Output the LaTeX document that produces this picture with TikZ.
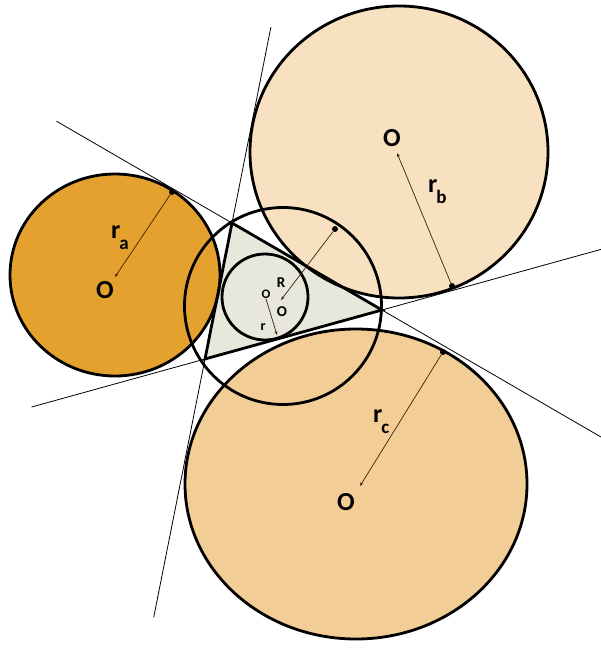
\documentclass[tikz,border=0pt]{standalone}
\usepackage{fontspec}
\setmainfont{Carlito}
\usetikzlibrary{calc,arrows.meta}
\definecolor{exa}{RGB}{229,161,46}
\definecolor{exb}{RGB}{248,225,192}
\definecolor{exc}{RGB}{242,206,150}
\definecolor{tri}{RGB}{231,232,219}
\definecolor{rad}{RGB}{60,30,10}

\begin{document}
\begin{tikzpicture}[x=1pt,y=-1pt,every node/.style={font=\bfseries,inner sep=0pt},
  rim/.style={line width=2.8pt},
  tline/.style={line width=0.8pt},
  radline/.style={draw=rad,line width=0.7pt,-{Stealth[length=4pt,width=3pt]}},
  blob/.style={fill=black,circle,minimum size=6pt},
  big/.style={font=\fontsize{26}{28}\selectfont\bfseries},
  small/.style={font=\fontsize{15}{17}\selectfont\bfseries}]
\useasboundingbox (0,0) rectangle (601,650);
\coordinate (A) at (232,223);
\coordinate (B) at (382,310);
\coordinate (C) at (205,359);
\coordinate (Oa) at (115,277);
\coordinate (Ob) at (397,153);
\coordinate (Oc) at (360,486);
\coordinate (Oi) at (266,299);
\coordinate (Ok) at (281,300);

\fill[exa] (115,275) ellipse [x radius=105,y radius=101];
\fill[exb] (399,152) ellipse [x radius=149,y radius=146];
\fill[exc] (356,484) ellipse [x radius=171,y radius=155];
\fill[tri] (A) -- (B) -- (C) -- cycle;

\draw[tline] ($(A)!-1.44!(C)$) -- ($(A)!2.9!(C)$);
\draw[tline] ($(A)!-1.17!(B)$) -- ($(A)!2.46!(B)$);
\draw[tline] ($(C)!-0.98!(B)$) -- ($(C)!2.24!(B)$);

\draw[rim] (115,275) ellipse [x radius=105,y radius=101];
\draw[rim] (399,152) ellipse [x radius=149,y radius=146];
\draw[rim] (356,484) ellipse [x radius=171,y radius=155];
\draw[rim,line join=miter] (A) -- (B) -- (C) -- cycle;
\draw[rim] (265,297) circle [radius=43];
\draw[rim] (283,306) circle [radius=98.5];

\node[blob] (ta) at (172,192) {};
\node[blob] (tb) at (452,286) {};
\node[blob] (tc) at (443,352) {};
\node[blob] (tk) at (335,229) {};
\coordinate (ti) at (277,335);
\draw[radline] (ta) -- (Oa);
\draw[radline] (tb) -- (Ob);
\draw[radline] (tc) -- (Oc);
\draw[radline] (tk) -- (Ok);
\draw[radline] (Oi) -- (ti);

\node[big] (la) at (105,290) {O};
\node[big] (lb) at (392,138) {O};
\node[big] (lc) at (346,502) {O};
\node[big,anchor=base west] (ra) at (111,238) {r\kern-1pt\raisebox{-11pt}{\fontsize{19}{20}\selectfont a}};
\node[big,anchor=base west] (rb) at (428,192) {r\kern-1pt\raisebox{-11pt}{\fontsize{19}{20}\selectfont b}};
\node[big,anchor=base west] (rc) at (373,422) {r\kern-1pt\raisebox{-11pt}{\fontsize{19}{20}\selectfont c}};
\node[small] (lR) at (281,283) {R};
\node[small] (lk) at (282,312) {O};
\node[font=\fontsize{13}{15}\selectfont\bfseries] (li) at (266,294) {O};
\node[font=\fontsize{14}{16}\selectfont\bfseries] (lr) at (263,327) {r};
\end{tikzpicture}
\end{document}
